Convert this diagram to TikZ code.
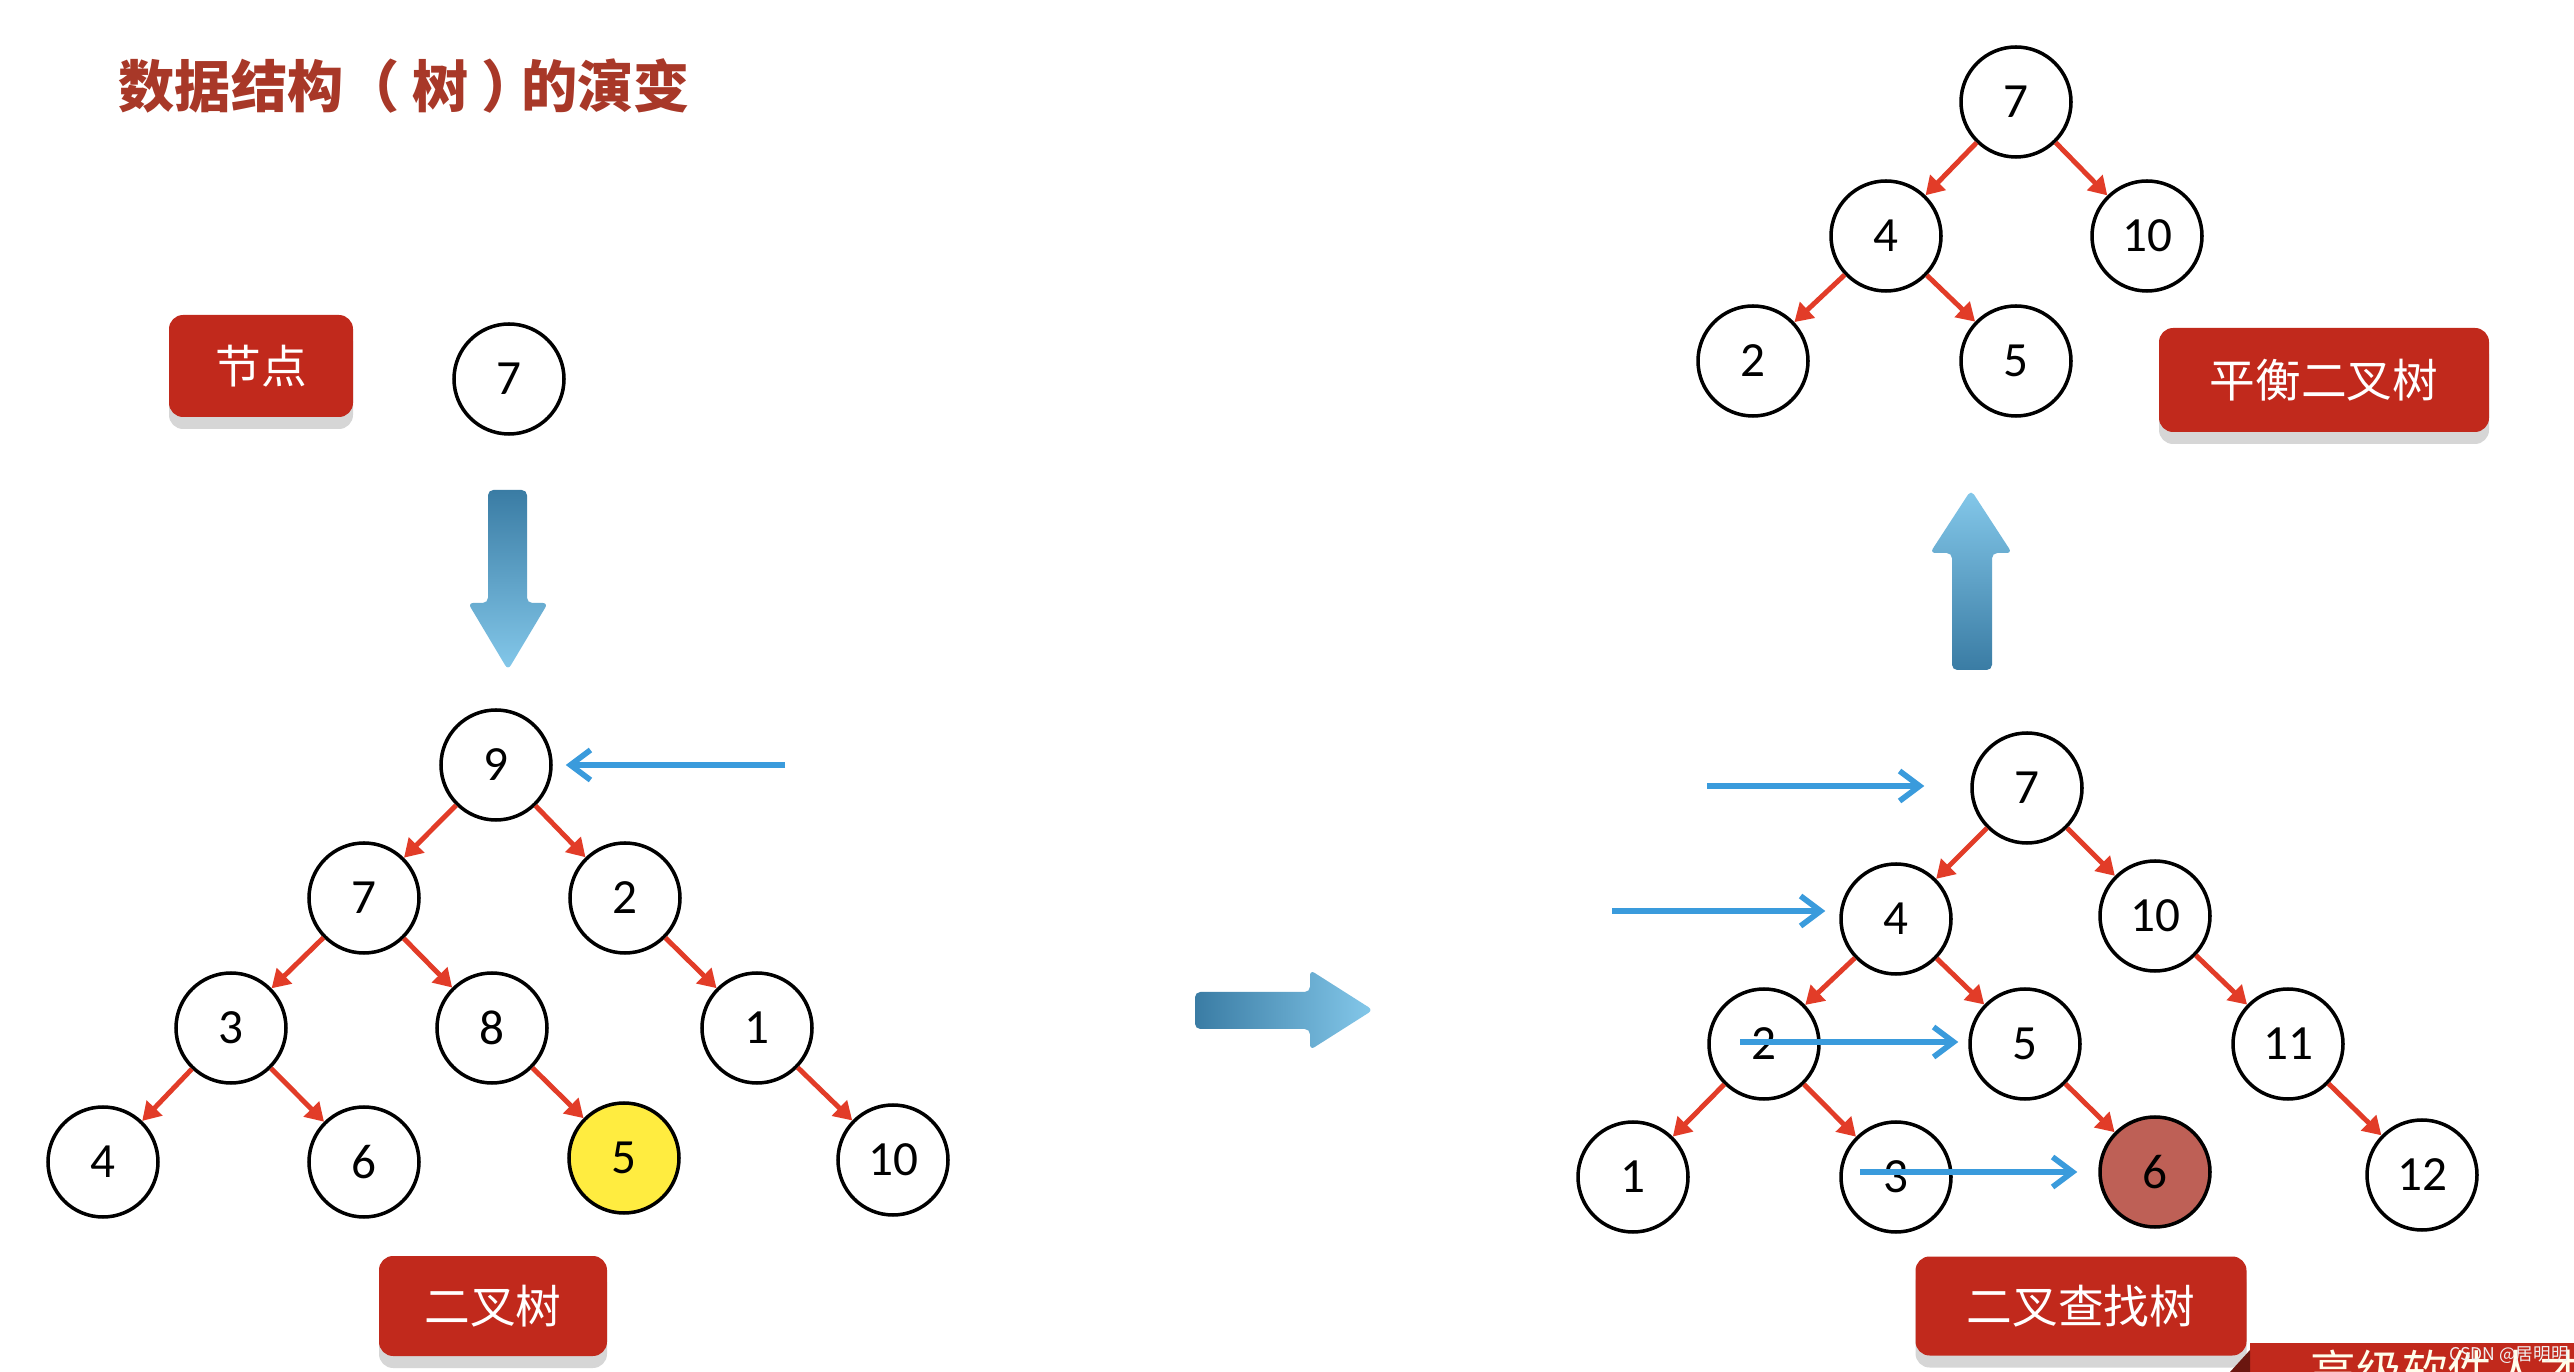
\documentclass[tikz,border=0pt]{standalone}
\usepackage{fontspec}
\usepackage{tikz}
\usetikzlibrary{arrows.meta,positioning,shadows}
\newfontfamily\cjk{Noto Sans CJK SC}
\newfontfamily\numfont{Carlito}
\definecolor{titlered}{RGB}{168,56,40}
\definecolor{tagred}{RGB}{193,41,28}
\definecolor{arcred}{RGB}{226,60,40}
\definecolor{ptrblue}{RGB}{58,155,220}
\definecolor{bigdark}{RGB}{58,124,164}
\definecolor{biglight}{RGB}{132,200,234}
\definecolor{hityellow}{RGB}{255,236,64}
\definecolor{hitred}{RGB}{190,96,86}
\tikzset{
  treenode/.style={circle, draw=black, fill=white, line width=1pt,
                   minimum size=1.1cm, inner sep=0pt,
                   font=\numfont\fontsize{14}{16}\selectfont},
  treearc/.style ={-{Triangle[length=1.8mm,width=2.1mm]}, line width=1.4pt, arcred},
  ptrarrow/.style={-{Straight Barb[length=2mm,width=3mm]}, line width=1.6pt,
                   ptrblue, shorten >=1.3mm},
  tagbox/.style  ={rectangle, rounded corners=4pt, fill=tagred, text=white,
                   inner sep=0pt, font=\cjk\fontsize{13}{15}\selectfont,
                   drop shadow={shadow xshift=0pt, shadow yshift=-1.2mm,
                                fill=black!16, opacity=1}},
  bigarrow/.style={rounded corners=1.5pt},
}

\begin{document}
\begin{tikzpicture}
  \useasboundingbox (0,0) rectangle (25.74,-13.72);
  \fill[white] (0,0) rectangle (25.74,-13.72);

  \node[anchor=west, inner sep=0pt, text=titlered,
        font=\cjk\bfseries\fontsize{16}{18}\selectfont] (title) at (1.18,-0.86)
        {数据结构（ 树 ）\kern-0.3em 的演变};

  % ---- one node, then the plain binary tree -------------------------------
  \node[tagbox, minimum width=1.84cm, minimum height=1.02cm] (tagnode) at (2.61,-3.66) {节点};
  \node[treenode] (N7) at (5.09,-3.79) {7};

  \shade[bigarrow, top color=bigdark, bottom color=biglight]
    (4.88,-4.90) -- (5.27,-4.90) -- (5.27,-6.03) -- (5.48,-6.03)
    -- (5.08,-6.70) -- (4.68,-6.03) -- (4.88,-6.03) -- cycle;

  \foreach \n/\x/\y in {9/4.96/-7.65, 7/3.64/-8.98, 2/6.25/-8.98,
                        3/2.31/-10.28, 8/4.92/-10.28, 1/7.57/-10.28,
                        4/1.03/-11.62, 6/3.64/-11.62, 10/8.93/-11.60} {
    \node[treenode] (L\n) at (\x,\y) {\n};
  }
  \node[treenode, fill=hityellow] (L5) at (6.24,-11.58) {5};
  \foreach \a/\b in {9/7, 9/2, 7/3, 7/8, 2/1, 3/4, 3/6, 8/5, 1/10} {
    \draw[treearc] (L\a) -- (L\b);
  }
  \coordinate (p9) at (7.85,-7.65);
  \draw[ptrarrow] (p9) -- (p9 -| L9.east);

  \node[tagbox, minimum width=2.28cm, minimum height=1.00cm] (tagbin) at (4.93,-13.06) {二叉树};

  \shade[bigarrow, left color=bigdark, right color=biglight]
    (11.95,-9.92) -- (13.10,-9.92) -- (13.10,-9.70) -- (13.73,-10.10)
    -- (13.10,-10.50) -- (13.10,-10.29) -- (11.95,-10.29) -- cycle;

  % ---- binary search tree -------------------------------------------------
  \foreach \n/\x/\y in {7/20.27/-7.88, 4/18.96/-9.19, 10/21.55/-9.16,
                        2/17.64/-10.44, 5/20.25/-10.44, 11/22.88/-10.44,
                        1/16.33/-11.77, 3/18.96/-11.77, 12/24.22/-11.75} {
    \node[treenode] (B\n) at (\x,\y) {\n};
  }
  \node[treenode, fill=hitred] (B6) at (21.55,-11.72) {6};
  \foreach \a/\b in {7/4, 7/10, 4/2, 4/5, 10/11, 2/1, 2/3, 5/6, 11/12} {
    \draw[treearc] (B\a) -- (B\b);
  }
  \coordinate (q7) at (17.07,-7.86);
  \coordinate (q4) at (16.12,-9.11);
  \coordinate (q5) at (17.40,-10.42);
  \coordinate (q6) at (18.60,-11.72);
  \draw[ptrarrow, shorten >=4.6mm] (q7) -- (q7 -| B7.west);
  \draw[ptrarrow, shorten >=1.4mm] (q4) -- (q4 -| B4.west);
  \draw[ptrarrow, shorten >=1.0mm] (q5) -- (q5 -| B5.west);
  \draw[ptrarrow, shorten >=2.1mm] (q6) -- (q6 -| B6.west);

  \node[tagbox, minimum width=3.31cm, minimum height=0.99cm] (tagbst) at (20.81,-13.06) {二叉查找树};

  \shade[bigarrow, top color=biglight, bottom color=bigdark]
    (19.52,-6.70) -- (19.52,-5.53) -- (19.30,-5.53) -- (19.71,-4.90)
    -- (20.12,-5.53) -- (19.92,-5.53) -- (19.92,-6.70) -- cycle;

  % ---- balanced tree ------------------------------------------------------
  \foreach \n/\x/\y in {7/20.16/-1.02, 4/18.86/-2.36, 10/21.47/-2.36,
                        2/17.53/-3.61, 5/20.16/-3.61} {
    \node[treenode] (T\n) at (\x,\y) {\n};
  }
  \foreach \a/\b in {7/4, 7/10, 4/2, 4/5} {
    \draw[treearc] (T\a) -- (T\b);
  }
  \node[tagbox, minimum width=3.30cm, minimum height=1.04cm] (tagavl) at (23.24,-3.80) {平衡二叉树};

  % ---- banner at the bottom edge -----------------------------------------
  \fill[tagred] (22.50,-13.43) rectangle (25.74,-13.72);
  \fill[tagred!55!black] (22.30,-13.72) -- (22.50,-13.50) -- (22.50,-13.72) -- cycle;
  \begin{scope}
    \clip (22.50,-13.43) rectangle (25.74,-13.72);
    \node[anchor=west, inner sep=0pt, text=white!92!yellow,
          font=\cjk\fontsize{13}{15}\selectfont] (banner) at (23.10,-13.71) {高级软件人才};
  \end{scope}
  \node[inner sep=0pt, text=white!88!gray, font=\cjk\fontsize{5}{6}\selectfont]
    (mark) at (25.09,-13.55) {CSDN @居明明};
\end{tikzpicture}
\end{document}
